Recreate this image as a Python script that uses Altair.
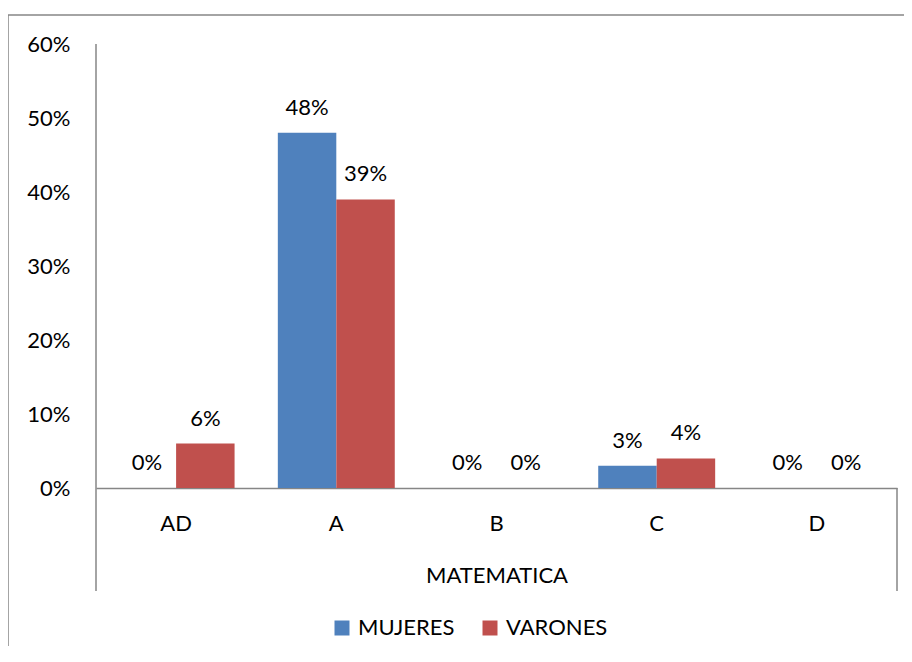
import altair as alt
import pandas as pd

categories = ["AD", "A", "B", "C", "D"]
series = ["MUJERES", "VARONES"]
mujeres = [0.00, 0.48, 0.00, 0.03, 0.00]
varones = [0.06, 0.39, 0.00, 0.04, 0.00]
y_ticks = [0, 0.1, 0.2, 0.3, 0.4, 0.5, 0.6]
x_title = "MATEMATICA"
colors = ["#4F81BD", "#C0504D"]

rows = []
for c, m, v in zip(categories, mujeres, varones):
    rows.append({"cat": c, "serie": series[0], "val": m})
    rows.append({"cat": c, "serie": series[1], "val": v})
df = pd.DataFrame(rows)

FONT = "Lato"
FS = 22
W, H = 801, 444

x_enc = alt.X("cat:N", sort=categories, scale=alt.Scale(paddingInner=0.27, paddingOuter=0.135),
              axis=alt.Axis(title=x_title, labelAngle=0, ticks=False, tickSize=0, labelPadding=25,
                            domainColor="#868686", domainWidth=1.5, titlePadding=31,
                            labelFont=FONT, labelFontSize=FS, labelColor="#000000",
                            titleFont=FONT, titleFontSize=FS, titleFontWeight="normal",
                            titleColor="#000000"))
y_enc = alt.Y("val:Q", scale=alt.Scale(domain=[0, 0.6], nice=False),
              axis=alt.Axis(title=None, values=y_ticks, format=".0%", grid=False, domain=False,
                            ticks=False, tickSize=0, labelPadding=26, labelFont=FONT,
                            labelFontSize=FS, labelColor="#000000"))
xo = alt.XOffset("serie:N", sort=series, scale=alt.Scale(paddingInner=0, paddingOuter=0))
color_enc = alt.Color("serie:N", sort=series, scale=alt.Scale(domain=series, range=colors),
                      legend=alt.Legend(title=None, orient="none", direction="horizontal",
                                        legendX=235, legendY=573, symbolType="square",
                                        symbolSize=225, symbolStrokeWidth=0, labelOffset=5,
                                        columnPadding=24, labelFont=FONT, labelFontSize=FS,
                                        labelColor="#000000"))

bars = alt.Chart(df).mark_bar().encode(x=x_enc, y=y_enc, xOffset=xo, color=color_enc)
labels = alt.Chart(df).mark_text(baseline="alphabetic", dy=-18, font=FONT, fontSize=FS,
                                 color="#000000").encode(
    x=alt.X("cat:N", sort=categories), y="val:Q", xOffset=xo, text=alt.Text("val:Q", format=".0%"))

one = pd.DataFrame({"a": [0]})
left_rule = alt.Chart(one).mark_rule(color="#868686", strokeWidth=1.5).encode(
    x=alt.value(0), y=alt.value(0), y2=alt.value(547))
right_rule = alt.Chart(one).mark_rule(color="#868686", strokeWidth=1.5).encode(
    x=alt.value(W), y=alt.value(H), y2=alt.value(547))
border_top = alt.Chart(one).mark_rule(color="#868686", strokeWidth=1.5).encode(
    x=alt.value(-88), x2=alt.value(1200), y=alt.value(-29))
border_left = alt.Chart(one).mark_rule(color="#868686", strokeWidth=1.5).encode(
    x=alt.value(-88), y=alt.value(-29), y2=alt.value(1200))

chart = alt.layer(border_top, border_left, bars, labels, left_rule, right_rule).properties(
    width=W, height=H,
    autosize=alt.AutoSizeParams(type="none"),
    padding={"left": 88, "top": 36, "right": 7, "bottom": 158},
).configure_view(stroke=None)

chart.save("out.html", embed_options={"renderer": "svg", "actions": False})
